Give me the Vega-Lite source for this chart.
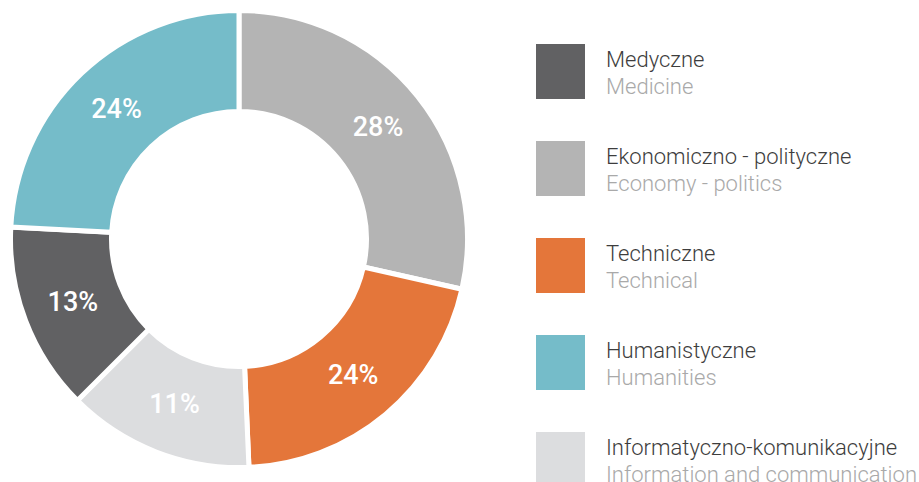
{
  "$schema": "https://vega.github.io/schema/vega-lite/v6.json",
  "padding": 0,
  "spacing": 0,
  "background": "white",
  "config": {"view": {"stroke": null}, "font": "Roboto"},
  "hconcat": [
    {
      "width": 476,
      "height": 472,
      "data": {"values": [
        {"pl": "Ekonomiczno - polityczne", "label": "28%", "arc": 102.7, "order": 1},
        {"pl": "Techniczne", "label": "24%", "arc": 74.8, "order": 2},
        {"pl": "Informatyczno-komunikacyjne", "label": "11%", "arc": 47.5, "order": 3},
        {"pl": "Medyczne", "label": "13%", "arc": 48, "order": 4},
        {"pl": "Humanistyczne", "label": "24%", "arc": 87, "order": 5}
      ]},
      "encoding": {
        "theta": {"field": "arc", "type": "quantitative", "stack": true},
        "order": {"field": "order", "type": "quantitative"}
      },
      "layer": [
        {
          "mark": {"type": "arc", "radius": 228.5, "radius2": 127.5, "stroke": "white", "strokeWidth": 5},
          "encoding": {
            "color": {"field": "pl", "type": "nominal", "legend": null,
              "scale": {"domain": ["Medyczne", "Ekonomiczno - polityczne", "Techniczne", "Humanistyczne", "Informatyczno-komunikacyjne"],
                        "range": ["#616163", "#b4b4b4", "#e4763a", "#75bcc9", "#dcdddf"]}}
          }
        },
        {
          "mark": {"type": "text", "radius": 178, "fontSize": 27, "fontWeight": 500, "color": "white"},
          "encoding": {"text": {"field": "label", "type": "nominal"}}
        }
      ]
    },
    {
      "width": 443,
      "height": 482,
      "data": {"values": [
        {"pl": "Medyczne", "en": "Medicine", "order": 0},
        {"pl": "Ekonomiczno - polityczne", "en": "Economy - politics", "order": 1},
        {"pl": "Techniczne", "en": "Technical", "order": 2},
        {"pl": "Humanistyczne", "en": "Humanities", "order": 3},
        {"pl": "Informatyczno-komunikacyjne", "en": "Information and communication", "order": 4}
      ]},
      "encoding": {
        "y": {"field": "order", "type": "ordinal", "axis": null,
              "scale": {"range": [-3, 528], "paddingInner": 0.433, "paddingOuter": 0.4536}}
      },
      "layer": [
        {
          "mark": {"type": "rect"},
          "encoding": {
            "x": {"datum": 0, "type": "quantitative", "axis": null, "scale": {"domain": [0, 1], "range": [58, 107]}},
            "x2": {"datum": 1},
            "color": {"field": "pl", "type": "nominal", "legend": null,
              "scale": {"domain": ["Medyczne", "Ekonomiczno - polityczne", "Techniczne", "Humanistyczne", "Informatyczno-komunikacyjne"],
                        "range": ["#616163", "#b4b4b4", "#e4763a", "#75bcc9", "#dcdddf"]}}
          }
        },
        {
          "mark": {"type": "text", "align": "left", "baseline": "alphabetic", "dy": -4.5, "fontSize": 22, "fontWeight": 300, "color": "#3d3d3d"},
          "encoding": {
            "x": {"datum": 1.4286, "type": "quantitative"},
            "text": {"field": "pl", "type": "nominal"}
          }
        },
        {
          "mark": {"type": "text", "align": "left", "baseline": "alphabetic", "dy": 22.5, "fontSize": 22, "fontWeight": 300, "color": "#a9a9a9"},
          "encoding": {
            "x": {"datum": 1.4286, "type": "quantitative"},
            "text": {"field": "en", "type": "nominal"}
          }
        }
      ]
    }
  ]
}
